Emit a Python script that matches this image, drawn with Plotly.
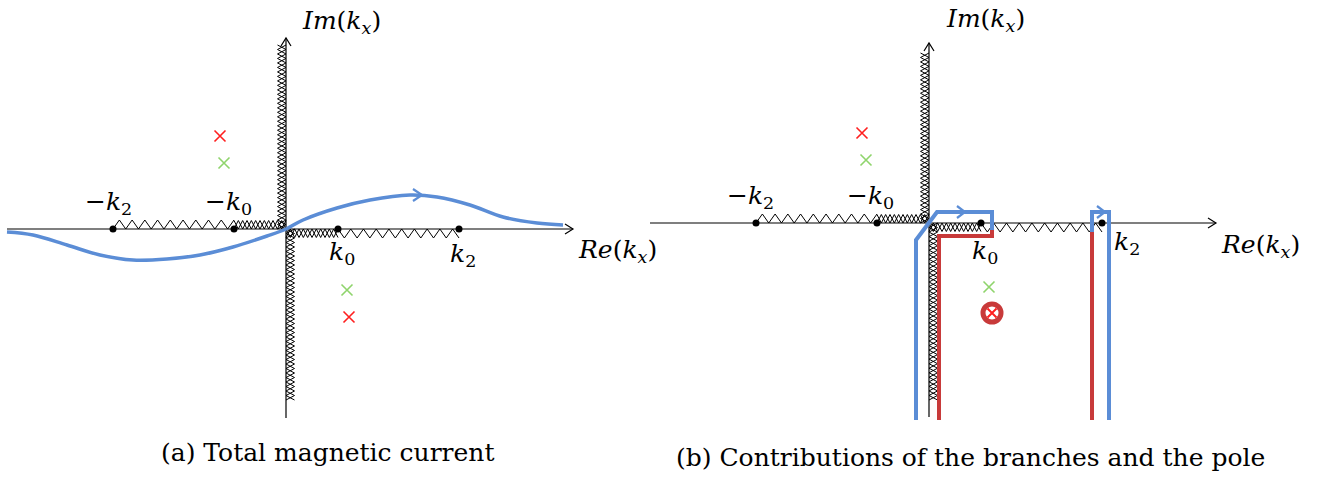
import plotly.graph_objects as go
import numpy as np

# ---------------- data (units: 1 unit = 1 px, origin at each panel's axes crossing)
K0 = 52          # branch point k0
K2 = 173         # branch point k2
branch_pts = [-K2, -K0, K0, K2]
branch_lbl = ["−<i>k</i><sub>2</sub>", "−<i>k</i><sub>0</sub>", "<i>k</i><sub>0</sub>", "<i>k</i><sub>2</sub>"]

# axes extents [xmin, xmax, ymin, ymax]
axes_a = [-279, 287, -189, 191]
axes_b = [-279, 287, -194, 180]
# vertical branch cut extents [top, bottom]
cut_a = [184, -171]
cut_b = [170, -177]

# poles
poles_a_red_x, poles_a_red_y = [-66, 63], [93, -88]
poles_a_green_x, poles_a_green_y = [-62, 61], [66, -61]
poles_b_red_x, poles_b_red_y = [-67], [90]
poles_b_green_x, poles_b_green_y = [-63, 60], [63, -64]
pole_b_cap_x, pole_b_cap_y = [63], [-90]

# integration path in (a)
path_a_x = [-279, -253, -219, -186, -153, -119, -86, -53, -19, 0, 17, 51, 84, 124, 151, 184, 217, 251, 277]
path_a_y = [-3, -6, -16, -26, -31, -30, -26, -18, -7, 0, 9, 21, 29, 34, 32, 24, 12, 6, 4]
arrow_a = (136, 34)

# contours in (b)
blue_l_x, blue_l_y = [-13, -13, 8, 63, 63], [-197, -17, 11, 11, -7]
red_l_x, red_l_y = [63, 63, 10, 10], [-5, -13, -13, -197]
red_r_x, red_r_y = [163, 163], [-197, -9]
blue_r_x, blue_r_y = [163, 163, 180, 180], [-9, 11, 11, -197]
arrows_b = [(36, 11), (176, 11)]

# label positions (offsets from origin)
lbl_a = [(-178, 26), (-58, 26), (56, -24), (177, -26)]
lbl_b = [(-179, 26), (-59, 26), (56, -29), (198, -20)]
re_lbl = [(331, -22), (331, -23)]
im_lbl = [(55, 207), (56, 203)]

BLUE = "#5b8dd6"
RED = "#c83a3a"
MRED = "#ff1f1f"
MGREEN = "#8fd46c"
FONT = "DejaVu Serif"

fig = go.Figure()


def line(xs, ys, ax, color="black", width=1.2):
    fig.add_trace(go.Scatter(x=xs, y=ys, mode="lines", line=dict(color=color, width=width),
                             hoverinfo="skip", showlegend=False, xaxis=ax[0], yaxis=ax[1]))


def chevron(tx, ty, dx, dy, ax, color="black", width=1.2, L=8, W=5):
    n = np.hypot(dx, dy)
    dx, dy = dx / n, dy / n
    px, py = -dy, dx
    xs = [tx - L * dx + W * px, tx, tx - L * dx - W * px]
    ys = [ty - L * dy + W * py, ty, ty - L * dy - W * py]
    line(xs, ys, ax, color, width)


def zig(x0, y0, x1, y1, side, amp, period, phase=0):
    # zigzag along segment, offset to 'side' (unit perpendicular)
    length = np.hypot(x1 - x0, y1 - y0)
    ux, uy = (x1 - x0) / length, (y1 - y0) / length
    n = int(round(length / (period / 2)))
    xs, ys = [], []
    for i in range(n + 1):
        t = length * i / n
        off = amp if (i + phase) % 2 == 1 else 0
        xs.append(x0 + ux * t + side[0] * off)
        ys.append(y0 + uy * t + side[1] * off)
    return xs, ys


def hatch(x0, y0, x1, y1, side, ax):
    for ph in (0, 1):
        xs, ys = zig(x0, y0, x1, y1, side, 8.5, 9, ph)
        line(xs, ys, ax, "black", 1.0)


def panel(ax, axes, cut, lbls, re_pos, im_pos):
    # branch cuts
    xs, ys = zig(-K2, 0, -K0, 0, (0, 1), 9, 13)
    line(xs, ys, ax, "black", 1.0)
    xs, ys = zig(K0, 0, K2, 0, (0, -1), 9, 13)
    line(xs, ys, ax, "black", 1.0)
    hatch(-K0, 0, 0, 0, (0, 1), ax)
    hatch(0, 0, 0, cut[0], (-1, 0), ax)
    hatch(0, 0, K0, 0, (0, -1), ax)
    hatch(0, 0, 0, cut[1], (1, 0), ax)
    # axes
    line([axes[0], axes[1]], [0, 0], ax)
    line([0, 0], [axes[2], axes[3]], ax)
    chevron(axes[1], 0, 1, 0, ax)
    chevron(0, axes[3], 0, 1, ax)
    # branch points
    fig.add_trace(go.Scatter(x=branch_pts, y=[0] * 4, mode="markers",
                             marker=dict(color="black", size=7), hoverinfo="skip",
                             showlegend=False, xaxis=ax[0], yaxis=ax[1]))
    for (lx, ly), t in zip(lbls, branch_lbl):
        fig.add_annotation(x=lx, y=ly, xref=ax[0], yref=ax[1], text=t, showarrow=False,
                           font=dict(family=FONT, size=25, color="black"))
    fig.add_annotation(x=re_pos[0], y=re_pos[1], xref=ax[0], yref=ax[1],
                       text="<i>Re</i>(<i>k<sub>x</sub></i>)", showarrow=False,
                       font=dict(family=FONT, size=25, color="black"))
    fig.add_annotation(x=im_pos[0], y=im_pos[1], xref=ax[0], yref=ax[1],
                       text="<i>Im</i>(<i>k<sub>x</sub></i>)", showarrow=False,
                       font=dict(family=FONT, size=25, color="black"))


def poles(xr, yr, xg, yg, ax):
    fig.add_trace(go.Scatter(x=xr, y=yr, mode="markers", hoverinfo="skip", showlegend=False,
                             marker=dict(symbol="x-thin", size=11, line=dict(color=MRED, width=1.6)),
                             xaxis=ax[0], yaxis=ax[1]))
    fig.add_trace(go.Scatter(x=xg, y=yg, mode="markers", hoverinfo="skip", showlegend=False,
                             marker=dict(symbol="x-thin", size=11, line=dict(color=MGREEN, width=1.6)),
                             xaxis=ax[0], yaxis=ax[1]))


A = ("x", "y")
B = ("x2", "y2")

# ---- panel (a)
panel(A, axes_a, cut_a, lbl_a, re_lbl[0], im_lbl[0])
poles(poles_a_red_x, poles_a_red_y, poles_a_green_x, poles_a_green_y, A)
fig.add_trace(go.Scatter(x=path_a_x, y=path_a_y, mode="lines",
                         line=dict(color=BLUE, width=3.5, shape="spline", smoothing=1.0),
                         hoverinfo="skip", showlegend=False))
chevron(arrow_a[0], arrow_a[1], 1, 0, A, BLUE, 2.2, 9, 6)

# ---- panel (b)
panel(B, axes_b, cut_b, lbl_b, re_lbl[1], im_lbl[1])
poles(poles_b_red_x, poles_b_red_y, poles_b_green_x, poles_b_green_y, B)
line(red_l_x, red_l_y, B, RED, 4)
line(red_r_x, red_r_y, B, RED, 4)
line(blue_l_x, blue_l_y, B, BLUE, 4)
line(blue_r_x, blue_r_y, B, BLUE, 4)
for ax_, ay_ in arrows_b:
    chevron(ax_, ay_, 1, 0, B, BLUE, 2.2, 8, 6)
fig.add_trace(go.Scatter(x=pole_b_cap_x, y=pole_b_cap_y, mode="markers", hoverinfo="skip",
                         showlegend=False, xaxis="x2", yaxis="y2",
                         marker=dict(symbol="circle-open", size=18, color=RED,
                                     line=dict(color=RED, width=5))))
fig.add_trace(go.Scatter(x=pole_b_cap_x, y=pole_b_cap_y, mode="markers", hoverinfo="skip",
                         showlegend=False, xaxis="x2", yaxis="y2",
                         marker=dict(symbol="x-thin", size=9, color=MRED,
                                     line=dict(color=MRED, width=2))))

# captions
fig.add_annotation(x=327 / 1330, y=1 - 452 / 477, xref="paper", yref="paper",
                   xanchor="center", yanchor="middle",
                   text="(a) Total magnetic current", showarrow=False,
                   font=dict(family=FONT, size=25, color="black"))
fig.add_annotation(x=970 / 1330, y=1 - 457 / 477, xref="paper", yref="paper",
                   xanchor="center", yanchor="middle",
                   text="(b) Contributions of the branches and the pole", showarrow=False,
                   font=dict(family=FONT, size=25, color="black"))

noax = dict(visible=False, showgrid=False, zeroline=False, fixedrange=True)
fig.update_layout(
    width=1330, height=477, margin=dict(l=0, r=0, t=0, b=0),
    paper_bgcolor="white", plot_bgcolor="white", showlegend=False,
    xaxis=dict(domain=[0, 1], range=[-286, 1044], **noax),
    yaxis=dict(domain=[0, 1], range=[-248, 229], **noax),
    xaxis2=dict(domain=[0, 1], range=[-929, 401], overlaying="x", **noax),
    yaxis2=dict(domain=[0, 1], range=[-254, 223], anchor="x2", overlaying="y", **noax),
)
fig.write_html("out.html")
